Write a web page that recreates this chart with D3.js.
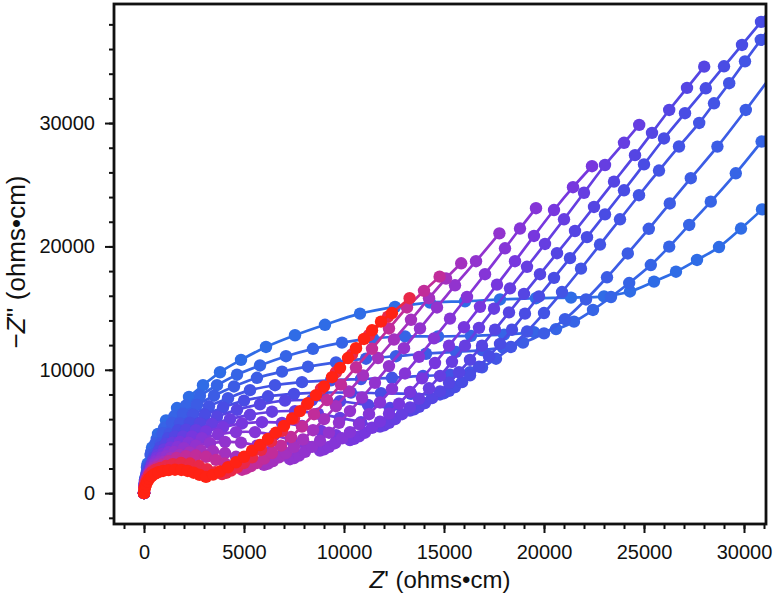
<!DOCTYPE html>
<html>
<head>
<meta charset="utf-8">
<script src="https://cdn.jsdelivr.net/npm/d3@7"></script>
<style>
  body { margin: 0; background: #fff; }
  svg { display: block; font-family: "Liberation Sans", Arial, Helvetica, sans-serif; }
</style>
</head>
<body>
<svg id="chart" width="774" height="596"></svg>
<script>
// Nyquist spectra, bluest (s00) to reddest (s13); each point is [Z', -Z''] in ohms*cm
const s00 = [[0,0],[60,1200],[180,2400],[400,3700],[700,4800],[1100,5900],[1650,6900],[2250,7800],[2950,8750],[3800,9800],[4850,10800],[6100,11850],[7550,12800],[9050,13650],[10800,14550],[12550,15100],[14300,15450],[16050,15550],[17800,15700],[19600,15800],[21350,15850],[23000,15950],[24300,16350],[25500,17150],[26600,17950],[27650,18900],[28750,19950],[29850,21450],[30900,23000],[31900,24700]];
const s01 = [[0,0],[55,1100],[165,2200],[365,3350],[640,4400],[1010,5300],[1520,6250],[2100,7100],[2800,7900],[3650,8750],[4650,9600],[5800,10350],[7100,11100],[8450,11700],[9900,12200],[11450,12550],[13050,12700],[14700,12700],[16350,12750],[18000,12850],[19500,13050],[20600,13300],[21500,13900],[22450,14850],[23350,15900],[24260,17030],[25340,18490],[26260,19980],[27260,21740],[28340,23630],[29590,25930],[30880,28500],[32000,30800]];
const s02 = [[0,0],[50,1000],[150,2050],[330,3100],[580,4050],[930,4850],[1400,5700],[1950,6450],[2650,7150],[3500,7900],[4500,8650],[5650,9350],[6900,9850],[8200,10250],[9600,10600],[11100,10900],[12600,11100],[14100,11300],[15600,11450],[16900,11600],[17950,11800],[18950,12200],[20000,12950],[21050,14100],[22100,15700],[23150,17500],[24190,19430],[25240,21430],[26290,23480],[27340,25530],[28670,28090],[30090,31060],[31400,33900]];
const s03 = [[0,0],[45,900],[140,1700],[300,2300],[530,3150],[850,4000],[1280,4800],[1800,5650],[2450,6350],[3250,7050],[4200,7700],[5300,8350],[6550,8750],[7900,9000],[9350,9150],[10850,9250],[12400,9350],[13950,9500],[15300,9600],[16300,9800],[16900,10200],[17600,10900],[18350,11850],[19150,13100],[20000,14600],[20900,16300],[21850,18200],[22800,20150],[23800,22200],[24750,24150],[25750,26150],[26750,28100],[27760,30010],[28500,31600],[29260,33230],[30050,35000],[30840,36740],[31700,38600]];
const s04 = [[0,0],[40,800],[130,1550],[280,2050],[500,2900],[800,3700],[1200,4450],[1700,5100],[2300,5700],[3050,6350],[3950,6950],[5000,7500],[6200,7850],[7500,8050],[8900,8150],[10350,8150],[11850,8100],[13350,8050],[14800,8000],[15000,8100],[15250,8300],[15550,8600],[15900,9000],[16300,9550],[16750,10250],[17250,11100],[17800,12100],[18400,13250],[19050,14550],[19750,15950],[20500,17450],[21300,19050],[22150,20750],[23050,22600],[24000,24550],[25000,26650],[26000,28750],[27050,30800],[28090,32820],[29000,34600],[29900,36330],[30850,38200],[31800,40100]];
const s05 = [[0,0],[40,750],[120,1450],[260,1900],[460,2700],[740,3400],[1100,4000],[1550,4600],[2100,5150],[2800,5650],[3650,6200],[4650,6750],[5800,7200],[7050,7500],[8400,7550],[9800,7450],[11200,7150],[12300,6900],[13300,6700],[13500,6800],[13750,7000],[14050,7300],[14400,7700],[14800,8250],[15250,8950],[15750,9800],[16300,10800],[16900,11950],[17550,13250],[18250,14650],[19000,16150],[19800,17750],[20650,19450],[21550,21250],[22500,23200],[23500,25250],[24550,27400],[25400,29200],[26260,31060],[27150,32850],[28010,34570]];
const s06 = [[0,0],[35,700],[110,1350],[240,1750],[420,2500],[680,3100],[1000,3550],[1420,4100],[1950,4600],[2600,5100],[3400,5600],[4300,6000],[5300,6350],[6400,6600],[7550,6650],[8700,6450],[9800,6100],[10850,5750],[11800,5400],[12000,5500],[12250,5700],[12550,6000],[12900,6400],[13300,6950],[13750,7650],[14250,8500],[14800,9500],[15400,10650],[16050,11950],[16750,13400],[17500,14950],[18300,16600],[19150,18350],[20050,20200],[21000,22200],[22000,24350],[23050,26600],[24000,28400],[24760,29850]];
const s07 = [[0,0],[35,650],[105,1250],[225,1650],[400,2300],[640,2850],[950,3200],[1330,3700],[1800,4150],[2400,4600],[3100,5000],[3950,5350],[4900,5650],[5900,5750],[6900,5700],[7900,5450],[8850,5050],[9600,4700],[10300,4300],[10500,4400],[10750,4600],[11050,4900],[11400,5300],[11800,5800],[12250,6450],[12750,7250],[13300,8200],[13900,9300],[14550,10550],[15250,11950],[16000,13450],[16800,15100],[17650,16900],[18550,18800],[19500,20850],[20500,22950],[21450,24800],[22400,26500]];
const s08 = [[0,0],[30,600],[95,1150],[210,1500],[370,2100],[590,2600],[880,2900],[1240,3350],[1680,3750],[2230,4100],[2900,4450],[3700,4750],[4600,4950],[5550,4950],[6500,4700],[7350,4300],[8100,3850],[8800,3450],[9000,3550],[9250,3750],[9550,4050],[9900,4450],[10300,4950],[10750,5600],[11250,6400],[11800,7350],[12400,8450],[13050,9700],[13750,11050],[14500,12550],[15300,14150],[16150,15900],[17050,17750],[18050,19850],[18800,21450],[19600,23100]];
const s09 = [[0,0],[30,560],[90,1050],[195,1400],[340,1900],[540,2350],[800,2600],[1120,3000],[1520,3350],[2000,3650],[2600,3850],[3300,4050],[4050,4150],[4850,4100],[5650,3850],[6350,3400],[6850,3050],[7300,2750],[7500,2850],[7750,3050],[8050,3350],[8400,3750],[8800,4250],[9250,4900],[9750,5700],[10300,6650],[10900,7750],[11550,8950],[12250,10300],[13000,11750],[13800,13350],[14650,15050],[15550,16850],[16600,18800],[17770,21060]];
const s10 = [[0,0],[28,520],[85,980],[180,1300],[310,1750],[490,2100],[720,2350],[1000,2550],[1350,2850],[1780,3100],[2280,3300],[2850,3450],[3450,3400],[4050,3250],[4600,2950],[5100,2700],[5550,2500],[6000,2300],[6200,2400],[6450,2600],[6750,2900],[7100,3250],[7500,3750],[7950,4350],[8450,5100],[9000,6000],[9600,7050],[10250,8250],[10950,9550],[11700,10950],[12500,12450],[13350,14050],[14250,15800],[15100,17400],[15860,18630]];
const s11 = [[0,0],[25,480],[80,900],[165,1200],[285,1600],[450,1900],[660,2100],[920,2300],[1240,2600],[1630,2850],[2100,3000],[2600,3050],[3100,2950],[3600,2700],[4050,2400],[4500,2150],[4900,1900],[5100,2000],[5350,2200],[5650,2450],[6000,2800],[6400,3250],[6850,3850],[7350,4550],[7900,5400],[8500,6400],[9150,7550],[9850,8800],[10600,10200],[11400,11700],[12250,13350],[13150,15050],[14000,16400],[14780,17550]];
const s12 = [[0,0],[22,440],[70,820],[150,1100],[255,1450],[400,1700],[590,1900],[820,2050],[1100,2200],[1440,2350],[1850,2450],[2300,2400],[2750,2200],[3150,1950],[3550,1700],[3900,1550],[4100,1650],[4350,1830],[4650,2100],[5000,2450],[5400,2900],[5850,3500],[6350,4200],[6900,5050],[7500,6050],[8150,7200],[8850,8450],[9600,9800],[10400,11250],[11250,12800],[12200,14300],[13280,15800]];
const s13 = [[0,0],[20,250],[50,480],[100,700],[170,950],[260,1180],[380,1380],[530,1560],[720,1700],[950,1800],[1230,1870],[1550,1900],[1870,1880],[2180,1800],[2480,1660],[2780,1480],[3100,1320],[3450,1500],[3800,1750],[4200,2100],[4600,2500],[5000,2950],[5400,3450],[5800,3900],[6200,4400],[6600,4900],[7000,5450],[7400,6050],[7800,6650],[8200,7300],[8600,7950],[9000,8650],[9400,9400],[9800,10150],[10200,10950],[10600,11750],[11000,12500],[11400,13200],[11850,13900],[12400,14600]];

const series = [s00, s01, s02, s03, s04, s05, s06, s07, s08, s09, s10, s11, s12, s13];
const xTicks = [0, 5000, 10000, 15000, 20000, 25000, 30000];
const yTicks = [0, 10000, 20000, 30000];

const box = {left: 114, right: 766, top: 4, bottom: 524};

const x = d3.scaleLinear().domain([-1500, 31100]).range([box.left, box.right]);
const y = d3.scaleLinear().domain([-2500, 39650]).range([box.bottom, box.top]);

const color = d3.scaleLinear()
    .domain([0, .35, .55, .75, .85, .92, 1])
    .range(['#2f6ce6', '#4d48e4', '#7a36de', '#9c32c8', '#c22c98', '#e8284a', '#ff2214'])
    .interpolate(d3.interpolateRgb);

const svg = d3.select('#chart');

svg.append('defs').append('clipPath').attr('id', 'plot')
  .append('rect')
    .attr('x', box.left).attr('y', box.top)
    .attr('width', box.right - box.left).attr('height', box.bottom - box.top);

const line = d3.line()
    .x(d => x(d[0]))
    .y(d => y(d[1]))
    .curve(d3.curveCatmullRom.alpha(0.5));

const plot = svg.append('g').attr('clip-path', 'url(#plot)');
series.forEach((pts, i) => {
  const c = color(i / (series.length - 1));
  const g = plot.append('g');
  g.append('path')
    .attr('d', line(pts))
    .attr('fill', 'none')
    .attr('stroke', c)
    .attr('stroke-width', 2.7);
  g.selectAll('circle').data(pts).join('circle')
    .attr('cx', d => x(d[0]))
    .attr('cy', d => y(d[1]))
    .attr('r', 6.2)
    .attr('fill', c);
});

// axes: minor ticks, then major ticks with labels
const xMinor = svg.append('g').attr('transform', `translate(0,${box.bottom})`)
  .call(d3.axisBottom(x).tickValues(d3.range(-1000, 31001, 1000)).tickSize(5).tickFormat(''));
const xMajor = svg.append('g').attr('transform', `translate(0,${box.bottom})`)
  .call(d3.axisBottom(x).tickValues(xTicks).tickSize(9).tickPadding(12).tickFormat(d3.format('d')));
const yMinor = svg.append('g').attr('transform', `translate(${box.left},0)`)
  .call(d3.axisLeft(y).tickValues(d3.range(-2000, 39001, 2000)).tickSize(5).tickFormat(''));
const yMajor = svg.append('g').attr('transform', `translate(${box.left},0)`)
  .call(d3.axisLeft(y).tickValues(yTicks).tickSize(9).tickPadding(10).tickFormat(d3.format('d')));

[xMinor, xMajor, yMinor, yMajor].forEach(a => {
  a.select('.domain').remove();
  a.selectAll('line').attr('stroke', '#111').attr('stroke-width', 2);
  a.attr('font-family', null).attr('font-size', null);
});
xMajor.selectAll('text').attr('font-size', 20).attr('fill', '#111');
yMajor.selectAll('text').attr('font-size', 20).attr('fill', '#111');

svg.append('rect')
  .attr('x', box.left).attr('y', box.top)
  .attr('width', box.right - box.left).attr('height', box.bottom - box.top)
  .attr('fill', 'none').attr('stroke', '#111').attr('stroke-width', 2.8);

// axis titles
const xt = svg.append('text')
  .attr('x', 440).attr('y', 588)
  .attr('text-anchor', 'middle')
  .attr('font-size', 24).attr('fill', '#111');
xt.append('tspan').attr('font-style', 'italic').text('Z');
xt.append('tspan').text("' (ohms•cm)");

const yt = svg.append('text')
  .attr('transform', 'translate(25,262) rotate(-90)')
  .attr('text-anchor', 'middle')
  .attr('font-size', 26).attr('fill', '#111');
yt.append('tspan').text('−');
yt.append('tspan').attr('font-style', 'italic').text('Z');
yt.append('tspan').text("'' (ohms•cm)");
</script>
</body>
</html>
